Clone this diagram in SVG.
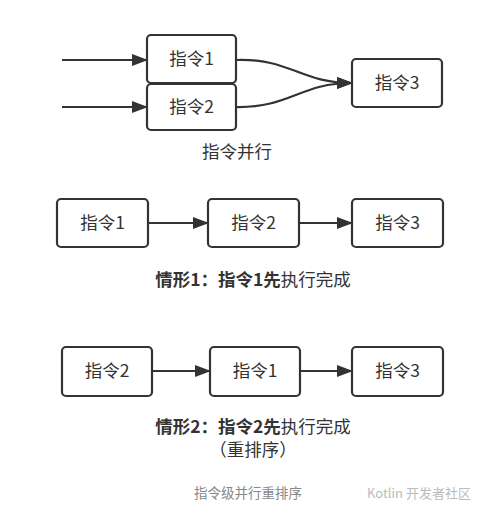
<svg xmlns="http://www.w3.org/2000/svg" width="482" height="508" viewBox="0 0 482 508">
<defs>
<marker id="ah" viewBox="0 0 16 12" refX="15" refY="6" markerWidth="16" markerHeight="12" markerUnits="userSpaceOnUse" orient="auto">
<path d="M0,0 L16,6 L0,12 Z" fill="#333"/>
</marker>
</defs>
<style>
.box{fill:#fff;stroke:#333;stroke-width:2.2}
.t{font-family:"Noto Sans CJK SC","Liberation Sans",sans-serif;font-size:17.5px;fill:#333;text-anchor:middle}
.c{stroke:#333;stroke-width:2.2;fill:none;marker-end:url(#ah)}
.b{font-weight:bold}
</style>
<rect width="482" height="508" fill="#fff"/>
<g id="connectors">
<line class="c" x1="62" y1="60" x2="147" y2="60"/>
<line class="c" x1="62" y1="107" x2="147" y2="107"/>
<path class="c" d="M236,60 C290,58 300,83 352,83"/>
<path class="c" d="M236,107 C290,108 300,83 352,83"/>
<line class="c" x1="148" y1="223" x2="208" y2="223"/>
<line class="c" x1="299" y1="223" x2="352" y2="223"/>
<line class="c" x1="152" y1="371" x2="210" y2="371"/>
<line class="c" x1="300" y1="371" x2="352" y2="371"/>
</g>
<g id="p1"><rect class="box" x="147" y="35" width="89" height="48" rx="4"/><text class="t" x="191.5" y="65">指令1</text></g>
<g id="p2"><rect class="box" x="147" y="84" width="89" height="46" rx="4"/><text class="t" x="191.5" y="113">指令2</text></g>
<g id="p3"><rect class="box" x="352" y="59" width="90" height="48" rx="4"/><text class="t" x="397" y="89">指令3</text></g>
<text class="t" x="237" y="158">指令并行</text>
<g id="a1"><rect class="box" x="57" y="199" width="91" height="48" rx="4"/><text class="t" x="102.5" y="229">指令1</text></g>
<g id="a2"><rect class="box" x="208" y="199" width="91" height="48" rx="4"/><text class="t" x="253.5" y="229">指令2</text></g>
<g id="a3"><rect class="box" x="352" y="199" width="91" height="48" rx="4"/><text class="t" x="397.5" y="229">指令3</text></g>
<text class="t" x="253" y="286"><tspan class="b">情形1：指令1先</tspan>执行完成</text>
<g id="b1"><rect class="box" x="62" y="347" width="90" height="49" rx="4"/><text class="t" x="107" y="377">指令2</text></g>
<g id="b2"><rect class="box" x="210" y="347" width="90" height="49" rx="4"/><text class="t" x="255" y="377">指令1</text></g>
<g id="b3"><rect class="box" x="352" y="347" width="91" height="49" rx="4"/><text class="t" x="397.5" y="377">指令3</text></g>
<text class="t" x="253" y="433"><tspan class="b">情形2：指令2先</tspan>执行完成</text>
<text class="t" x="253" y="456">（重排序）</text>
<text x="248" y="498" style="font-family:'Noto Sans CJK SC','Liberation Sans',sans-serif;font-size:13.5px;fill:#888;text-anchor:middle">指令级并行重排序</text>
<text x="419" y="498" style="font-family:'Noto Sans CJK SC','Liberation Sans',sans-serif;font-size:13px;fill:#bbb;text-anchor:middle">Kotlin 开发者社区</text>
</svg>
